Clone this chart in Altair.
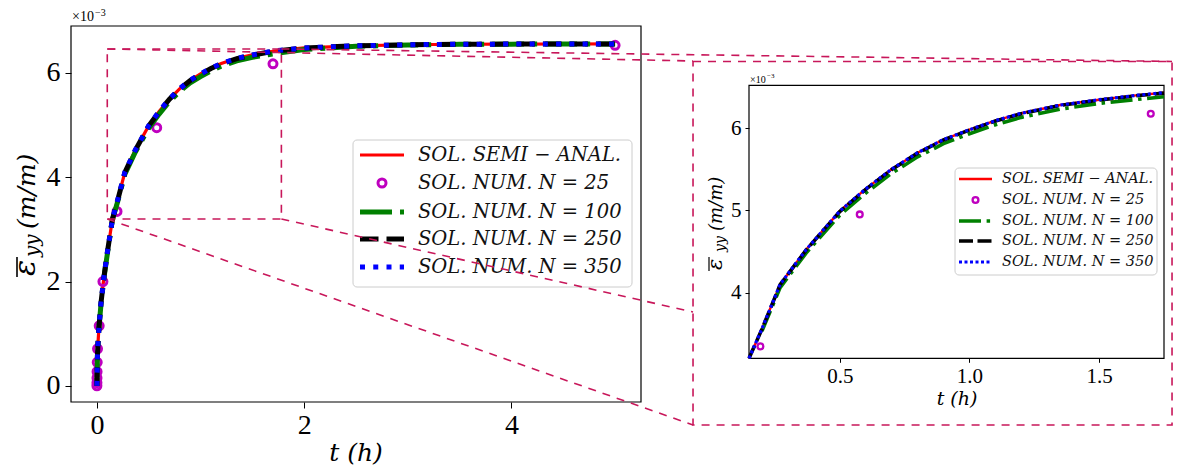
import altair as alt
import pandas as pd

# ---------------- data (strain values in units of 1e-3) ----------------
t_semi = [0, 0.005, 0.01, 0.02, 0.04, 0.07, 0.1, 0.15, 0.2, 0.27, 0.37, 0.5, 0.6, 0.7,
          0.8, 0.9, 1.0, 1.1, 1.2, 1.35, 1.5, 1.65, 1.75, 2.0, 2.5, 3.0, 3.5, 4.0, 4.5, 5.0]
y_semi = [0, 0.57, 0.8, 1.13, 1.6, 2.12, 2.55, 3.2, 3.56, 4.1, 4.52, 4.99, 5.26, 5.5,
          5.7, 5.86, 5.98, 6.09, 6.18, 6.28, 6.345, 6.4, 6.43, 6.48, 6.52, 6.54, 6.55, 6.553, 6.555, 6.556]

t_n25 = [0, 0.0003, 0.0008, 0.0015, 0.003, 0.006, 0.022, 0.058, 0.194, 0.577, 1.699, 5.0]
y_n25 = [0.0, 0.06, 0.15, 0.27, 0.45, 0.71, 1.15, 2.0, 3.345, 4.95, 6.174, 6.53]

t_num = [0, 0.005, 0.01, 0.02, 0.04, 0.07, 0.1, 0.15, 0.2, 0.27, 0.37, 0.5, 0.6, 0.7,
         0.8, 0.9, 1.0, 1.1, 1.2, 1.35, 1.5, 1.65, 1.75, 2.0, 2.5, 3.0, 3.5, 4.0, 4.5, 5.0]
y_n100 = [0, 0.56, 0.79, 1.12, 1.58, 2.1, 2.52, 3.19, 3.53, 4.06, 4.48, 4.94, 5.21, 5.45,
          5.65, 5.81, 5.93, 6.04, 6.13, 6.23, 6.30, 6.35, 6.38, 6.45, 6.51, 6.535, 6.548, 6.552, 6.554, 6.555]
y_n250 = [0, 0.57, 0.8, 1.13, 1.6, 2.12, 2.55, 3.2, 3.555, 4.095, 4.515, 4.985, 5.255, 5.495,
          5.695, 5.855, 5.975, 6.085, 6.175, 6.275, 6.34, 6.395, 6.425, 6.478, 6.52, 6.54, 6.55, 6.553, 6.555, 6.556]
y_n350 = [0, 0.57, 0.8, 1.13, 1.6, 2.12, 2.55, 3.2, 3.56, 4.1, 4.52, 4.99, 5.26, 5.5,
          5.7, 5.86, 5.98, 6.09, 6.18, 6.28, 6.345, 6.4, 6.43, 6.48, 6.52, 6.54, 6.55, 6.553, 6.555, 6.556]

legend_labels = ["SOL. SEMI − ANAL.", "SOL. NUM. N = 25", "SOL. NUM. N = 100",
                 "SOL. NUM. N = 250", "SOL. NUM. N = 350"]

main_t_ticks = [0, 2, 4]
main_e_ticks = [0, 2, 4, 6]
inset_t_ticks = [0.5, 1.0, 1.5]
inset_e_ticks = [4, 5, 6]

MAIN_T = [-0.25, 5.25]
MAIN_E = [-0.31, 6.9]
INSET_T = [0.15, 1.75]
INSET_E = [3.2, 6.52]
ZOOM_T = [0.1, 1.78]
ZOOM_E = [3.2, 6.46]
BOX_T = [5.752, 10.374]
BOX_E = [-0.751, 6.22]

# ---------------- styles ----------------
SERIF = "Liberation Serif"
MATH = "DejaVu Serif"
MAG = "#BF00BF"
ZCOL = "#C8175A"
RED, GREEN, BLACK, BLUE = "#FF0000", "#008000", "#000000", "#0000FF"

semi = pd.DataFrame({"t": t_semi, "e": y_semi})
n25 = pd.DataFrame({"t": t_n25, "e": y_n25})
n100 = pd.DataFrame({"t": t_num, "e": y_n100})
n250 = pd.DataFrame({"t": t_num, "e": y_n250})
n350 = pd.DataFrame({"t": t_num, "e": y_n350})
one = pd.DataFrame({"k": [0]})

main_x = alt.Scale(domain=MAIN_T, range=[0, 570], nice=False, zero=False)
main_y = alt.Scale(domain=MAIN_E, range=[376, 0], nice=False, zero=False)
ins_x = alt.Scale(domain=INSET_T, range=[678, 1093], nice=False, zero=False)
ins_y = alt.Scale(domain=INSET_E, range=[332.3, 59.3], nice=False, zero=False)


def axis(values, fmt, orient, size, tick, offset=0, lpad=4):
    return alt.Axis(values=values, format=fmt, orient=orient, grid=False, domain=False,
                    tickSize=tick, tickColor="black", tickWidth=1, labelFont=SERIF,
                    labelFontSize=size, labelColor="black", labelPadding=lpad,
                    labelFlush=False, labelOverlap=False, offset=offset, title="")


main_ax_x = axis(main_t_ticks, "d", "bottom", 28, 6, 0, 3)
main_ax_y = axis(main_e_ticks, "d", "left", 28, 6, 0, 5)
ins_ax_x = axis(inset_t_ticks, ".1f", "bottom", 21, 4, -43.7, 3)
ins_ax_y = axis(inset_e_ticks, "d", "left", 21, 4, -678, 4)


def legend_layers(box, rows, sx, tx, fs, styles, csize, csw):
    x0, x1, y0, y1 = box
    L = [alt.Chart(one).mark_rect(fill="white", fillOpacity=0.85, stroke="#cccccc",
                                  strokeWidth=1, cornerRadius=4)
         .encode(x=alt.value(x0), x2=alt.value(x1), y=alt.value(y0), y2=alt.value(y1))]
    for i, (lab, st) in enumerate(zip(legend_labels, styles)):
        yy = rows[i]
        if st is None:
            L.append(alt.Chart(one).mark_point(shape="circle", filled=False, color=MAG,
                                               size=csize, strokeWidth=csw, opacity=1)
                     .encode(x=alt.value((sx[0] + sx[1]) / 2), y=alt.value(yy)))
        else:
            kw = dict(color=st[0], strokeWidth=st[1])
            if st[2]:
                kw["strokeDash"] = st[2]
            L.append(alt.Chart(one).mark_rule(**kw)
                     .encode(x=alt.value(sx[0]), x2=alt.value(sx[1]), y=alt.value(yy)))
        L.append(alt.Chart(one).mark_text(text=lab, font=MATH, fontSize=fs, fontStyle="italic",
                                          align="left", baseline="middle", color="#111111")
                 .encode(x=alt.value(tx), y=alt.value(yy)))
    return L


def panel(xs, ys, ax, ay, styles, csize, csw, frame_t, frame_e, filt=None):
    def X(f="t"):
        return alt.X(f"{f}:Q", scale=xs, axis=ax)

    def Y(f="e"):
        return alt.Y(f"{f}:Q", scale=ys, axis=ay)

    frame_df = pd.DataFrame({"t0": [frame_t[0]], "t1": [frame_t[1]],
                             "e0": [frame_e[0]], "e1": [frame_e[1]]})
    layers = [alt.Chart(frame_df).mark_rect(fillOpacity=0, stroke="black", strokeWidth=1.2)
              .encode(x=X("t0"), x2="t1:Q", y=Y("e0"), y2="e1:Q")]

    def lyr(c):
        if filt is not None:
            c = c.transform_filter(alt.FieldRangePredicate(field="t", range=filt[0]))
            c = c.transform_filter(alt.FieldRangePredicate(field="e", range=filt[1]))
        return c.encode(x=X(), y=Y())

    r, g, k, b = styles
    layers.append(lyr(alt.Chart(semi).mark_line(color=r[0], strokeWidth=r[1])))
    layers.append(lyr(alt.Chart(n25).mark_point(shape="circle", filled=False, color=MAG,
                                                size=csize, strokeWidth=csw, opacity=1)))
    layers.append(lyr(alt.Chart(n100).mark_line(color=g[0], strokeWidth=g[1], strokeDash=g[2])))
    layers.append(lyr(alt.Chart(n250).mark_line(color=k[0], strokeWidth=k[1], strokeDash=k[2])))
    layers.append(lyr(alt.Chart(n350).mark_line(color=b[0], strokeWidth=b[1], strokeDash=b[2])))
    return layers, X, Y


main_styles = [(RED, 3.2, None), (GREEN, 5, [32, 8, 5, 8]), (BLACK, 5, [18.5, 8]), (BLUE, 5, [5, 8.25])]
ins_styles = [(RED, 2.4, None), (GREEN, 3.6, [22, 5.6, 3.5, 5.6]), (BLACK, 3.6, [14, 4.5]), (BLUE, 3.2, [3, 2.5])]

main_layers, MX, MY = panel(main_x, main_y, main_ax_x, main_ax_y, main_styles, 64, 3,
                            MAIN_T, MAIN_E)
main_layers += legend_layers((282, 561, 114, 261), [129, 157, 186, 213, 241], (289, 333), 347, 19.5,
                             [main_styles[0], None, main_styles[1], main_styles[2], main_styles[3]],
                             64, 3)

# zoom rectangle and connectors (drawn in main-panel coordinates)
zoom_df = pd.DataFrame({"t0": [ZOOM_T[0]], "t1": [ZOOM_T[1]], "e0": [ZOOM_E[0]], "e1": [ZOOM_E[1]]})
box_df = pd.DataFrame({"t0": [BOX_T[0]], "t1": [BOX_T[1]], "e0": [BOX_E[0]], "e1": [BOX_E[1]]})
conn_df = pd.DataFrame({
    "t0": [ZOOM_T[0], ZOOM_T[1], ZOOM_T[0], ZOOM_T[1]],
    "e0": [ZOOM_E[1], ZOOM_E[1], ZOOM_E[0], ZOOM_E[0]],
    "t1": [BOX_T[0], BOX_T[1], BOX_T[0], BOX_T[0]],
    "e1": [6.229, BOX_E[1], BOX_E[0], 1.416],
})
dash = [8, 7]
main_layers.append(alt.Chart(zoom_df).mark_rect(fillOpacity=0, stroke=ZCOL, strokeWidth=1.6, strokeDash=dash)
                   .encode(x=MX("t0"), x2="t1:Q", y=MY("e0"), y2="e1:Q"))
main_layers.append(alt.Chart(box_df).mark_rect(fillOpacity=0, stroke=ZCOL, strokeWidth=1.6, strokeDash=dash)
                   .encode(x=MX("t0"), x2="t1:Q", y=MY("e0"), y2="e1:Q"))
main_layers.append(alt.Chart(conn_df).mark_rule(color=ZCOL, strokeWidth=1.6, strokeDash=dash)
                   .encode(x=MX("t0"), x2="t1:Q", y=MY("e0"), y2="e1:Q"))

ins_layers, IX, IY = panel(ins_x, ins_y, ins_ax_x, ins_ax_y, ins_styles, 34, 2.3,
                           INSET_T, INSET_E, filt=(INSET_T, INSET_E))
ins_layers += legend_layers((884, 1086, 142, 249), [153, 174, 195, 215, 236], (888, 921), 931, 14.5,
                            [ins_styles[0], None, ins_styles[1], ins_styles[2], ins_styles[3]],
                            34, 2.3)


def txt(s, x, y, fs, style="normal", angle=0, font=MATH, align="left"):
    return alt.Chart(one).mark_text(text=s, font=font, fontSize=fs, fontStyle=style, angle=angle,
                                    align=align, baseline="alphabetic", color="black") \
        .encode(x=alt.value(x), y=alt.value(y))


def bar(x, y0, y1, w):
    return alt.Chart(one).mark_rule(color="black", strokeWidth=w) \
        .encode(x=alt.value(x), y=alt.value(y0), y2=alt.value(y1))


overlay = [
    # multiplier labels
    txt("×10", 1, -5, 14, font=SERIF),
    txt("−3", 24, -10, 10, font=SERIF),
    txt("×10", 679, 57, 10, font=SERIF),
    txt("−3", 696, 52, 7, font=SERIF),
    # x titles
    txt("t (h)", 285, 435, 25, "italic", align="center"),
    txt("t (h)", 886, 379, 19, "italic", align="center"),
    # main y title
    txt("ε", -36, 250, 30, "italic", 270),
    bar(-54, 231, 251, 1.6),
    txt("yy", -32, 231, 20, "italic", 270),
    txt("(m/m)", -36, 203, 25, "italic", 270),
    # inset y title
    txt("ε", 651, 244, 21, "italic", 270),
    bar(638, 231, 245, 1.2),
    txt("yy", 654, 226, 14, "italic", 270),
    txt("(m/m)", 651, 205, 18, "italic", 270),
]

main_panel = alt.layer(*main_layers)
ins_panel = alt.layer(*ins_layers)
overlay_panel = alt.layer(*overlay)

chart = (alt.layer(main_panel, ins_panel, overlay_panel)
         .resolve_scale(x="independent", y="independent")
         .properties(width=1104, height=376,
                     padding={"left": 63, "top": 18, "right": 0, "bottom": 66},
                     autosize=alt.AutoSizeParams(type="none"))
         .configure_view(stroke=None))

chart.save("out.html", embed_options={"renderer": "svg", "actions": False})
